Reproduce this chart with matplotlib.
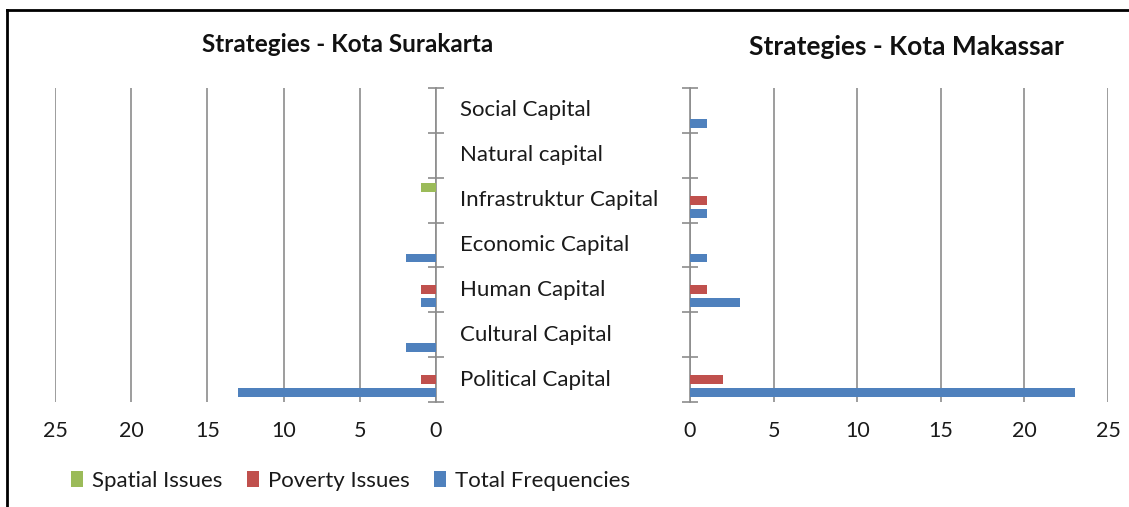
import matplotlib
matplotlib.use("Agg")
import matplotlib.pyplot as plt
from matplotlib.patches import Patch
from matplotlib.lines import Line2D
import matplotlib.transforms as mtransforms
import numpy as np

categories = ["Social Capital", "Natural capital", "Infrastruktur Capital",
              "Economic Capital", "Human Capital", "Cultural Capital", "Political Capital"]
series_names = ["Spatial Issues", "Poverty Issues", "Total Frequencies"]

# Kota Surakarta
sur_spatial = [0, 0, 1, 0, 0, 0, 0]
sur_poverty = [0, 0, 0, 0, 1, 0, 1]
sur_total = [0, 0, 0, 2, 1, 2, 13]

# Kota Makassar
mak_spatial = [0, 0, 0, 0, 0, 0, 0]
mak_poverty = [0, 0, 1, 0, 1, 0, 2]
mak_total = [1, 0, 1, 1, 3, 0, 23]

x_ticks = [0, 5, 10, 15, 20, 25]

colors = ["#9BBB59", "#C0504D", "#4F81BD"]
grid_c = "#8c8c8c"
font = ["Lato", "DejaVu Sans"]
plt.rcParams["font.family"] = font

W, H = 1129, 507
fig = plt.figure(figsize=(W / 100, H / 100), dpi=100)

def fx(px):
    return px / W

def fy(py):
    return 1 - py / H

top, bot = 88, 402
axL = fig.add_axes([fx(55), fy(bot), fx(436) - fx(55), fy(top) - fy(bot)])
axR = fig.add_axes([fx(690), fy(bot), fx(1108) - fx(690), fy(top) - fy(bot)])

y = np.arange(len(categories))
offsets = [-0.29, 0.0, 0.29]
h = 0.2

for ax, data in ((axL, (sur_spatial, sur_poverty, sur_total)),
                 (axR, (mak_spatial, mak_poverty, mak_total))):
    for i, vals in enumerate(data):
        ax.barh(y + offsets[i], vals, height=h, color=colors[i], label=series_names[i], zorder=3)
    ax.set_ylim(len(categories) - 0.5, -0.5)
    ax.set_yticks(np.arange(len(categories) + 1) - 0.5)
    ax.set_yticklabels([])
    ax.set_xticks(x_ticks)
    ax.set_xticklabels([str(t) for t in x_ticks])
    ax.tick_params(axis="x", length=0, pad=14, labelsize=15.5, labelcolor="#1a1a1a")
    ax.tick_params(axis="y", direction="inout", length=12, width=1.2, color=grid_c)
    for s in ax.spines.values():
        s.set_visible(False)
    ax.grid(axis="x", color=grid_c, linewidth=1.2, zorder=0)

axL.set_xlim(25, 0)
axL.spines["right"].set_visible(True)
axL.spines["right"].set_color(grid_c)
axL.spines["right"].set_linewidth(1.2)
axL.yaxis.tick_right()

axR.set_xlim(0, 25)
axR.spines["left"].set_visible(True)
axR.spines["left"].set_color(grid_c)
axR.spines["left"].set_linewidth(1.2)

# category labels in the middle
trans = mtransforms.blended_transform_factory(fig.transFigure, axL.transData)
for i, c in enumerate(categories):
    fig.text(fx(460), i, c, transform=trans, ha="left", va="center",
             fontsize=16, color="#1a1a1a", zorder=5)

# titles
fig.text(fx(348), fy(45), "Strategies - Kota Surakarta", ha="center", va="center",
         fontsize=17.5, fontweight="bold", color="#111111")
fig.text(fx(906), fy(47), "Strategies - Kota Makassar", ha="center", va="center",
         fontsize=19, fontweight="bold", color="#111111")

# legend
handles = [Patch(facecolor=colors[i], edgecolor="none", label=series_names[i]) for i in range(3)]
fig.legend(handles=handles, loc="center left", bbox_to_anchor=(fx(51), fy(481)),
           ncol=3, frameon=False, fontsize=16, handlelength=0.55, handleheight=0.75,
           handletextpad=0.4, columnspacing=1.1, labelcolor="#1a1a1a")

# outer frame (top and left)
fig.add_artist(Line2D([fx(7), 1], [fy(10), fy(10)], color="black", linewidth=2))
fig.add_artist(Line2D([fx(7), fx(7)], [fy(10), 0], color="black", linewidth=2))

fig.savefig("out.png", dpi=100)
